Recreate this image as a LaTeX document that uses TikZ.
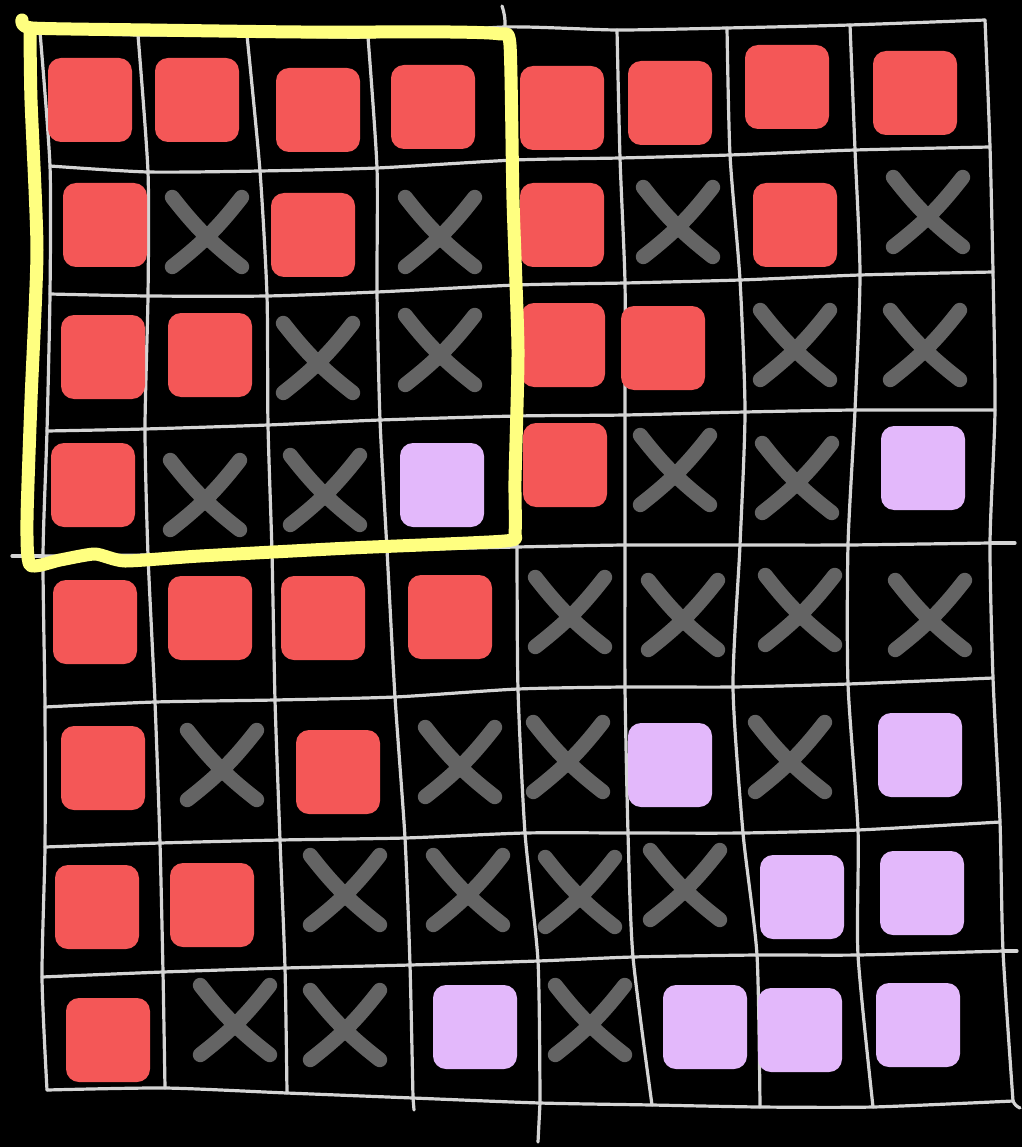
\documentclass[tikz,border=0pt]{standalone}
\definecolor{cred}{HTML}{F45757}
\definecolor{cpur}{HTML}{E3B8FB}
\definecolor{cgray}{HTML}{646464}
\definecolor{cgrid}{HTML}{D4D4D4}
\definecolor{cyel}{HTML}{FFFF80}
\newcommand\xm[3]{\node[xcell] (#1) at (#2,#3) {};
  \draw[xs] (#1.north west) to[bend right=7] (#1.south east);
  \draw[xs] (#1.north east) to[bend left=7] (#1.south west);}
\begin{document}
\begin{tikzpicture}[x=1pt,y=-1pt,
  gridline/.style={draw=cgrid,line width=3.2pt,line cap=round,line join=round},
  sq/.style={rectangle,rounded corners=13pt,minimum size=84pt,inner sep=0pt,draw=none,fill=#1},
  xcell/.style={rectangle,minimum size=69pt,inner sep=0pt,draw=none},
  xs/.style={draw=cgray,line width=15pt,line cap=round},
  yel/.style={draw=cyel,line width=13pt,line cap=round,line join=round}]
\fill[black] (0,0) rectangle (1022,1147);
\useasboundingbox (0,0) rectangle (1022,1147);
% grid intersections
\foreach [count=\i from 0] \px/\py in {40/32,138/35,247/35,368/37,505/27,617/30,727/28,850/25,985/20} \coordinate (g-\i-0) at (\px,\py);
\foreach [count=\i from 0] \px/\py in {50/166,148/172,260/171,377/168,515/160,620/158,730/155,855/150,990/147} \coordinate (g-\i-1) at (\px,\py);
\foreach [count=\i from 0] \px/\py in {50/294,148/296,267/296,377/292,517/285,625/283,740/280,860/275,993/272} \coordinate (g-\i-2) at (\px,\py);
\foreach [count=\i from 0] \px/\py in {47/431,145/429,268/425,380/420,517/416,625/415,745/412,855/410,995/410} \coordinate (g-\i-3) at (\px,\py);
\foreach [count=\i from 0] \px/\py in {43/556,148/555,272/553,387/550,517/547,625/545,740/545,848/545,990/543} \coordinate (g-\i-4) at (\px,\py);
\foreach [count=\i from 0] \px/\py in {45/707,155/702,275/700,395/697,518/689,625/687,733/687,848/684,993/678} \coordinate (g-\i-5) at (\px,\py);
\foreach [count=\i from 0] \px/\py in {45/847,160/843,280/840,405/838,525/833,628/833,743/833,858/830,1000/822} \coordinate (g-\i-6) at (\px,\py);
\foreach [count=\i from 0] \px/\py in {42/977,163/972,285/968,410/965,538/961,633/957,757/955,858/955,1003/951} \coordinate (g-\i-7) at (\px,\py);
\foreach [count=\i from 0] \px/\py in {47/1090,165/1088,287/1093,413/1098,540/1103,652/1105,760/1107,873/1107,1013/1101} \coordinate (g-\i-8) at (\px,\py);
% free ends
\coordinate (e-l4) at (12,556);
\coordinate (e-r4) at (1015,543);
\coordinate (e-r7) at (1017,951);
\coordinate (e-t4) at (502,6);
\coordinate (e-b4) at (538,1142);
\coordinate (e-b3) at (414,1110);
\coordinate (e-br) at (1020,1108);
% grid lines
\foreach \j in {0,...,8}
  \draw[gridline] plot[smooth,tension=0.4] coordinates {(g-0-\j) (g-1-\j) (g-2-\j) (g-3-\j) (g-4-\j) (g-5-\j) (g-6-\j) (g-7-\j) (g-8-\j)};
\foreach \i in {0,...,8}
  \draw[gridline] plot[smooth,tension=0.4] coordinates {(g-\i-0) (g-\i-1) (g-\i-2) (g-\i-3) (g-\i-4) (g-\i-5) (g-\i-6) (g-\i-7) (g-\i-8)};
\draw[gridline] (e-l4) -- (g-0-4);
\draw[gridline] (g-8-4) -- (e-r4);
\draw[gridline] (g-8-7) -- (e-r7);
\draw[gridline] (e-t4) to[bend left=10] (g-4-0);
\draw[gridline] (g-4-8) -- (e-b4);
\draw[gridline] (g-3-8) -- (e-b3);
\draw[gridline] (g-8-8) to[bend right=20] (e-br);
% red squares
\node[sq=cred] (s-1-1) at (90,100) {};
\node[sq=cred] (s-1-2) at (197,100) {};
\node[sq=cred] (s-1-3) at (318,110) {};
\node[sq=cred] (s-1-4) at (433,107) {};
\node[sq=cred] (s-1-5) at (562,108) {};
\node[sq=cred] (s-1-6) at (670,103) {};
\node[sq=cred] (s-1-7) at (787,87) {};
\node[sq=cred] (s-1-8) at (915,93) {};
\node[sq=cred] (s-2-1) at (105,225) {};
\node[sq=cred] (s-2-3) at (313,235) {};
\node[sq=cred] (s-2-5) at (562,225) {};
\node[sq=cred] (s-2-7) at (795,225) {};
\node[sq=cred] (s-3-1) at (103,357) {};
\node[sq=cred] (s-3-2) at (210,355) {};
\node[sq=cred] (s-3-5) at (563,345) {};
\node[sq=cred] (s-3-6) at (663,348) {};
\node[sq=cred] (s-4-1) at (93,485) {};
\node[sq=cred] (s-4-5) at (565,465) {};
\node[sq=cred] (s-5-1) at (95,622) {};
\node[sq=cred] (s-5-2) at (210,618) {};
\node[sq=cred] (s-5-3) at (323,618) {};
\node[sq=cred] (s-5-4) at (450,617) {};
\node[sq=cred] (s-6-1) at (103,768) {};
\node[sq=cred] (s-6-3) at (338,772) {};
\node[sq=cred] (s-7-1) at (97,907) {};
\node[sq=cred] (s-7-2) at (212,905) {};
\node[sq=cred] (s-8-1) at (108,1040) {};
% purple squares
\node[sq=cpur] (s-4-4) at (442,485) {};
\node[sq=cpur] (s-4-8) at (923,468) {};
\node[sq=cpur] (s-6-6) at (670,765) {};
\node[sq=cpur] (s-6-8) at (920,755) {};
\node[sq=cpur] (s-7-7) at (802,897) {};
\node[sq=cpur] (s-7-8) at (922,893) {};
\node[sq=cpur] (s-8-4) at (475,1027) {};
\node[sq=cpur] (s-8-6) at (705,1027) {};
\node[sq=cpur] (s-8-7) at (800,1030) {};
\node[sq=cpur] (s-8-8) at (918,1025) {};
% crosses
\xm{x-2-2}{207}{232}
\xm{x-2-4}{440}{232}
\xm{x-2-6}{678}{222}
\xm{x-2-8}{928}{212}
\xm{x-3-3}{318}{358}
\xm{x-3-4}{440}{350}
\xm{x-3-7}{795}{345}
\xm{x-3-8}{925}{345}
\xm{x-4-2}{205}{495}
\xm{x-4-3}{325}{490}
\xm{x-4-6}{675}{470}
\xm{x-4-7}{797}{478}
\xm{x-5-5}{570}{612}
\xm{x-5-6}{683}{615}
\xm{x-5-7}{800}{610}
\xm{x-5-8}{930}{615}
\xm{x-6-2}{222}{765}
\xm{x-6-4}{460}{762}
\xm{x-6-5}{568}{757}
\xm{x-6-7}{790}{757}
\xm{x-7-3}{345}{890}
\xm{x-7-4}{468}{890}
\xm{x-7-5}{580}{892}
\xm{x-7-6}{685}{885}
\xm{x-8-2}{235}{1020}
\xm{x-8-3}{345}{1025}
\xm{x-8-5}{590}{1020}
% yellow frame
\draw[yel] plot[smooth,tension=0.35] coordinates {(22,20) (32,28) (150,30) (300,32) (450,32) (500,34) (510,45) (513,200) (518,350) (515,480) (515,532) (505,541) (350,548) (200,556) (125,561) (95,554) (60,560) (30,565) (27,520) (31,400) (37,250) (31,100) (30,30)};
\end{tikzpicture}
\end{document}
